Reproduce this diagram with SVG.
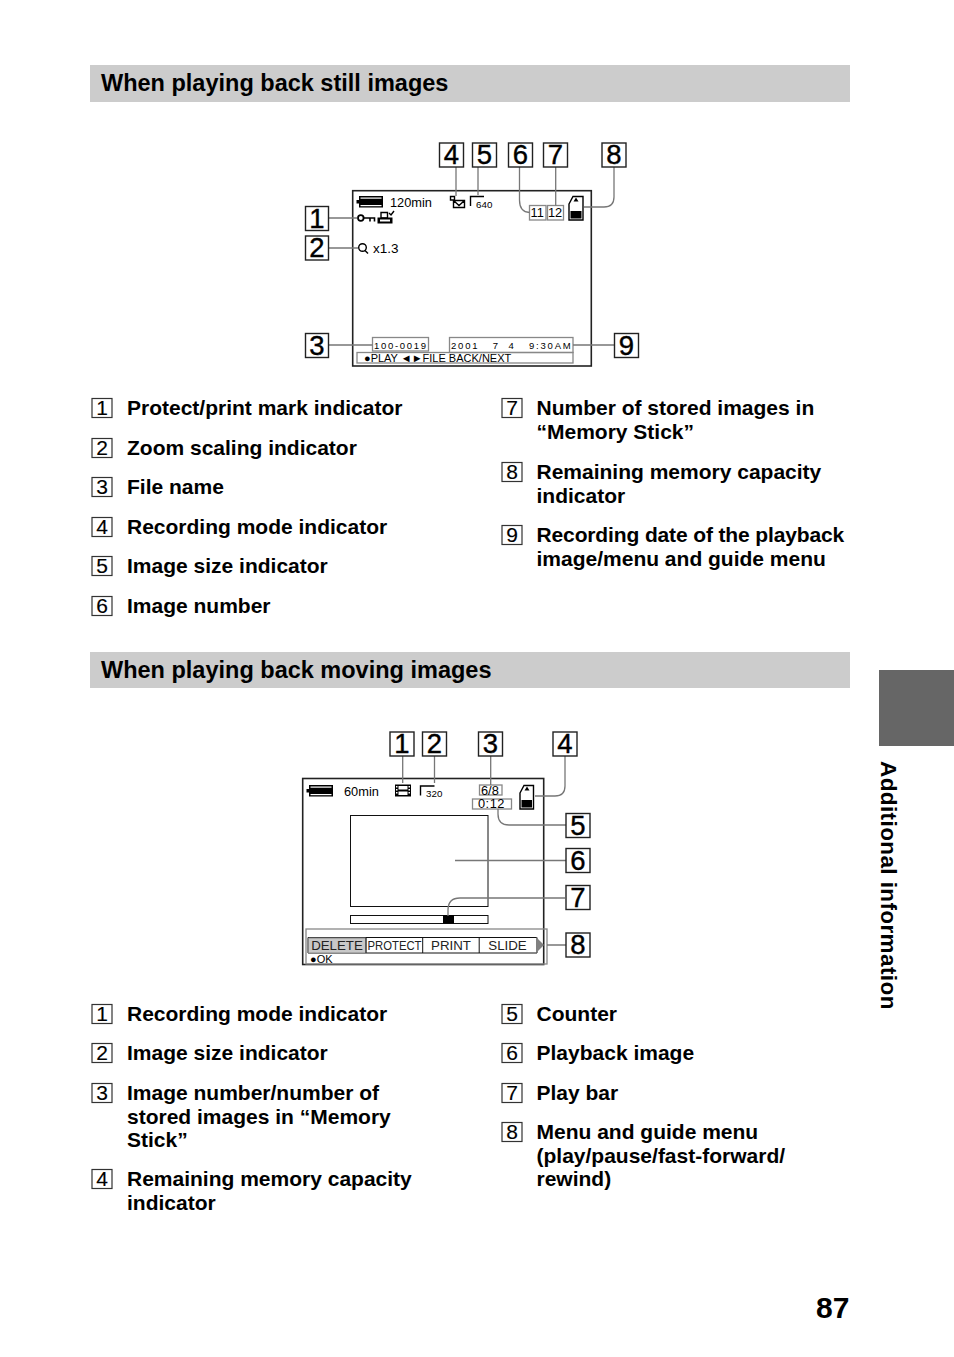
<svg xmlns="http://www.w3.org/2000/svg" width="954" height="1357" viewBox="0 0 954 1357">
<style>
text{font-family:"Liberation Sans",Arial,sans-serif;fill:#000}
.h{font-size:23.500px;font-weight:bold}
.big rect{fill:#fff;stroke:#222;stroke-width:1.400}
.big text{font-size:27.500px;text-anchor:middle;stroke:#000;stroke-width:.4}
.sm rect{fill:#fff;stroke:#333;stroke-width:1.200}
.sm text{font-size:21px;text-anchor:middle;stroke:#000;stroke-width:.15}
.sm text.t{font-size:21px;font-weight:bold;text-anchor:start;stroke:none}
.c{fill:none;stroke:#777;stroke-width:1.300}
.scr{fill:#fff;stroke:#222;stroke-width:1.600}
.g{fill:#fff;stroke:#888;stroke-width:1.300}
.gn{fill:none;stroke:#888;stroke-width:1.300}
.s{font-size:12.800px}
.k{fill:#000;stroke:none}
.o{fill:none;stroke:#000;stroke-width:1.400}
.m{font-size:13.300px;text-anchor:middle;fill:#222}
</style>
<g id="header-still"><rect x="90" y="65" width="760" height="37" fill="#ccc"/><text class="h" x="101" y="91">When playing back still images</text></g>
<g id="header-moving"><rect x="90" y="652" width="760" height="36" fill="#ccc"/><text class="h" x="101" y="677.500">When playing back moving images</text></g>
<g id="side-tab"><rect x="879" y="670" width="75" height="76" fill="#666"/><text transform="translate(881 761) rotate(90)" font-size="22.500" font-weight="bold" letter-spacing=".4">Additional information</text></g>
<text id="page-number" x="816" y="1318" font-size="30" font-weight="bold">87</text>

<g id="screen-still">
<rect class="scr" x="352.700" y="190.700" width="238.600" height="175.300"/>
<path class="k" d="M356.500 200h2.500v-4h24v11.500h-24v-4h-2.500z"/><rect x="360.500" y="197.500" width="21" height="1.200" fill="#fff"/><rect x="360.500" y="205" width="21" height="1.200" fill="#fff"/>
<text class="s" x="390" y="206.500">120min</text>
<path class="o" d="M450.500 196.500h4v3.500h-4zM453.500 200.500h11v7h-11zM453.500 200.500l5.500 5 5.500-5"/>
<path class="o" d="M470.500 206v-9.500h13.500"/>
<text x="476" y="208" font-size="9.800">640</text>
<path class="o" d="M569 204l4-7.500h10v23.500h-14z" fill="#fff"/><path class="k" d="M570.500 211h11v7.500h-11zM576 197.500l2.500 4h-5z"/>
<circle cx="360.800" cy="218" r="2.800" fill="none" stroke="#000" stroke-width="1.800"/><path d="M363.500 218h11v3.500M370 218v3.500" fill="none" stroke="#000" stroke-width="1.600"/>
<path class="o" d="M381 212.500h6.500v5.500h-6.500z"/><path class="k" d="M377.500 217.500h15v6h-15z"/><path d="M380 219.500h10v2h-10z" fill="#fff"/><path class="o" d="M389 213l2 2 3-4"/>
<circle class="o" cx="362.500" cy="247.500" r="3.800"/><path class="o" d="M365 250.500l3 3"/>
<text x="373" y="253" font-size="13.500">x1.3</text>
<rect class="gn" x="357" y="352.500" width="216" height="10.500"/>
<rect class="gn" x="449.500" y="337.500" width="123.500" height="15"/>
<rect class="g" x="372.500" y="337.500" width="56" height="13.500"/>
<rect class="g" x="529.500" y="205.500" width="16.500" height="14.500"/>
<rect class="g" x="547.500" y="205.500" width="16" height="14.500"/>
<text class="s" x="530.500" y="217">11</text>
<text class="s" x="548" y="217">12</text>
<text x="374" y="349" font-size="9.500" letter-spacing="1.700">100-0019</text>
<text x="451" y="349" font-size="9.500" letter-spacing="1.800" xml:space="preserve">2001   7  4   9:30AM</text>
<text x="364" y="362" font-size="11">●PLAY   ◄►FILE BACK/NEXT</text>
</g>

<g id="connectors-still">
<path class="c" d="M328 218h29M328 248h30M328 345h44.500M573 345h41M456 167v29M478 167v28M519.500 167v33q0 12 10 12.500M555.700 167v38.500M614 167v30q0 10-10 10h-20"/>
</g>

<g id="still-b1" class="big"><rect x="305.500" y="206.500" width="23" height="24"/><text x="317" y="227.500">1</text></g>
<g id="still-b2" class="big"><rect x="305.500" y="236" width="23" height="24"/><text x="317" y="257">2</text></g>
<g id="still-b3" class="big"><rect x="305.500" y="333.500" width="23" height="24"/><text x="317" y="354.500">3</text></g>
<g id="still-b4" class="big"><rect x="439.500" y="143" width="24" height="24"/><text x="451.500" y="164">4</text></g>
<g id="still-b5" class="big"><rect x="472.500" y="143" width="24" height="24"/><text x="484.500" y="164">5</text></g>
<g id="still-b6" class="big"><rect x="508.500" y="143" width="24" height="24"/><text x="520.500" y="164">6</text></g>
<g id="still-b7" class="big"><rect x="543.500" y="143" width="24" height="24"/><text x="555.500" y="164">7</text></g>
<g id="still-b8" class="big"><rect x="602" y="143" width="24" height="24"/><text x="614" y="164">8</text></g>
<g id="still-b9" class="big"><rect x="614.500" y="333.500" width="24" height="24"/><text x="626.500" y="354.500">9</text></g>

<g id="screen-moving">
<rect class="scr" x="302.700" y="778.500" width="241" height="186"/>
<path class="k" d="M306.500 789h2.500v-4h24v11.500h-24v-4h-2.500z"/><rect x="310.500" y="786.500" width="21" height="1.200" fill="#fff"/><rect x="310.500" y="794" width="21" height="1.200" fill="#fff"/>
<text class="s" x="344" y="795.500">60min</text>
<path class="k" d="M395 784.500h16v12h-16z"/><path d="M398.500 786h9v3.500h-9zM398.500 791.500h9v3.500h-9z" fill="#fff"/><path d="M396 786h1.500v1.500h-1.500zM396 789h1.500v1.500h-1.500zM396 792h1.500v1.500h-1.500zM408.500 786h1.500v1.500h-1.500zM408.500 789h1.500v1.500h-1.500zM408.500 792h1.500v1.500h-1.500z" fill="#fff"/>
<path class="o" d="M420.500 795.500v-9.500h14"/>
<text x="426" y="797" font-size="9.800">320</text>
<rect class="g" x="479.500" y="785" width="22.500" height="10"/>
<rect class="g" x="472.500" y="799" width="39" height="10"/>
<text class="s" x="481" y="794.500">6/8</text>
<text x="478" y="808" font-size="12.800" letter-spacing=".5">0:12</text>
<path class="o" d="M520 793l4-7.500h9.500v23.500h-13.500z" fill="#fff"/><path class="k" d="M521.500 800h10.500v7.500h-10.500zM527 786.500l2.500 4h-5z"/>
<rect x="350.500" y="815.500" width="137.500" height="91" fill="#fff" stroke="#111"/>
<rect x="350.500" y="915.500" width="137.500" height="8" fill="#fff" stroke="#111"/>
<rect class="k" x="443" y="915" width="11" height="8.500"/>
<rect class="gn" x="306" y="929" width="241" height="35"/>
<path d="M308 937.500h229v15.500h-229z" fill="#fff" stroke="#111"/>
<path d="M308.500 938h57.500v15h-57.500z" fill="#c8c8c8" stroke="#888"/>
<path d="M422.700 937.500v15.500M479.200 937.500v15.500M366 937.500v15.500" stroke="#111" fill="none"/>
<path d="M536 937l8 8-8 8z" fill="#808080"/>
<text class="m" x="337" y="950">DELETE</text>
<text class="m" x="394.500" y="950" textLength="54" lengthAdjust="spacingAndGlyphs">PROTECT</text>
<text class="m" x="451" y="950">PRINT</text>
<text class="m" x="507.500" y="950">SLIDE</text>
<text x="310" y="963" font-size="11">●OK</text>
</g>

<g id="connectors-moving">
<path class="c" d="M402.700 756v27M434.500 756v27M490.700 756v29M565 756v30q0 10-10 10h-20M498 809v5q0 11 11 11h57M455 860.500h111M565 898h-105q-12 0-12 12v6M547 945h19"/>
</g>

<g id="move-b1" class="big"><rect x="390" y="732" width="24" height="24"/><text x="402" y="753">1</text></g>
<g id="move-b2" class="big"><rect x="422.500" y="732" width="24" height="24"/><text x="434.500" y="753">2</text></g>
<g id="move-b3" class="big"><rect x="478.500" y="732" width="24" height="24"/><text x="490.500" y="753">3</text></g>
<g id="move-b4" class="big"><rect x="553" y="732" width="24" height="24"/><text x="565" y="753">4</text></g>
<g id="move-b5" class="big"><rect x="566" y="813.500" width="24" height="24"/><text x="578" y="834.500">5</text></g>
<g id="move-b6" class="big"><rect x="566" y="848.500" width="24" height="24"/><text x="578" y="869.500">6</text></g>
<g id="move-b7" class="big"><rect x="566" y="885.500" width="24" height="24"/><text x="578" y="906.500">7</text></g>
<g id="move-b8" class="big"><rect x="566" y="933" width="24" height="24"/><text x="578" y="954">8</text></g>

<g id="list-still-1" class="sm"><rect x="92" y="398.500" width="20" height="19"/><text x="102" y="415">1</text><text class="t" x="127" y="415">Protect/print mark indicator</text></g>
<g id="list-still-2" class="sm"><rect x="92" y="438.500" width="20" height="19"/><text x="102" y="455">2</text><text class="t" x="127" y="455">Zoom scaling indicator</text></g>
<g id="list-still-3" class="sm"><rect x="92" y="477.500" width="20" height="19"/><text x="102" y="494">3</text><text class="t" x="127" y="494">File name</text></g>
<g id="list-still-4" class="sm"><rect x="92" y="517.500" width="20" height="19"/><text x="102" y="534">4</text><text class="t" x="127" y="534">Recording mode indicator</text></g>
<g id="list-still-5" class="sm"><rect x="92" y="556.500" width="20" height="19"/><text x="102" y="573">5</text><text class="t" x="127" y="573">Image size indicator</text></g>
<g id="list-still-6" class="sm"><rect x="92" y="596.500" width="20" height="19"/><text x="102" y="613">6</text><text class="t" x="127" y="613">Image number</text></g>
<g id="list-still-7" class="sm"><rect x="502" y="398.500" width="20" height="19"/><text x="512" y="415">7</text><text class="t" x="536.500" y="415">Number of stored images in</text><text class="t" x="536.500" y="438.500">“Memory Stick”</text></g>
<g id="list-still-8" class="sm"><rect x="502" y="462.500" width="20" height="19"/><text x="512" y="479">8</text><text class="t" x="536.500" y="479">Remaining memory capacity</text><text class="t" x="536.500" y="502.500">indicator</text></g>
<g id="list-still-9" class="sm"><rect x="502" y="525.500" width="20" height="19"/><text x="512" y="542">9</text><text class="t" x="536.500" y="542" letter-spacing="-.13">Recording date of the playback</text><text class="t" x="536.500" y="565.500">image/menu and guide menu</text></g>

<g id="list-move-1" class="sm"><rect x="92" y="1004.500" width="20" height="19"/><text x="102" y="1021">1</text><text class="t" x="127" y="1021">Recording mode indicator</text></g>
<g id="list-move-2" class="sm"><rect x="92" y="1043.500" width="20" height="19"/><text x="102" y="1060">2</text><text class="t" x="127" y="1060">Image size indicator</text></g>
<g id="list-move-3" class="sm"><rect x="92" y="1083.500" width="20" height="19"/><text x="102" y="1100">3</text><text class="t" x="127" y="1100">Image number/number of</text><text class="t" x="127" y="1123.500">stored images in “Memory</text><text class="t" x="127" y="1147">Stick”</text></g>
<g id="list-move-4" class="sm"><rect x="92" y="1169.500" width="20" height="19"/><text x="102" y="1186">4</text><text class="t" x="127" y="1186">Remaining memory capacity</text><text class="t" x="127" y="1209.500">indicator</text></g>
<g id="list-move-5" class="sm"><rect x="502" y="1004.500" width="20" height="19"/><text x="512" y="1021">5</text><text class="t" x="536.500" y="1021">Counter</text></g>
<g id="list-move-6" class="sm"><rect x="502" y="1043.500" width="20" height="19"/><text x="512" y="1060">6</text><text class="t" x="536.500" y="1060">Playback image</text></g>
<g id="list-move-7" class="sm"><rect x="502" y="1083.500" width="20" height="19"/><text x="512" y="1100">7</text><text class="t" x="536.500" y="1100">Play bar</text></g>
<g id="list-move-8" class="sm"><rect x="502" y="1122.500" width="20" height="19"/><text x="512" y="1139">8</text><text class="t" x="536.500" y="1139">Menu and guide menu</text><text class="t" x="536.500" y="1162.500">(play/pause/fast-forward/</text><text class="t" x="536.500" y="1186">rewind)</text></g>
</svg>
